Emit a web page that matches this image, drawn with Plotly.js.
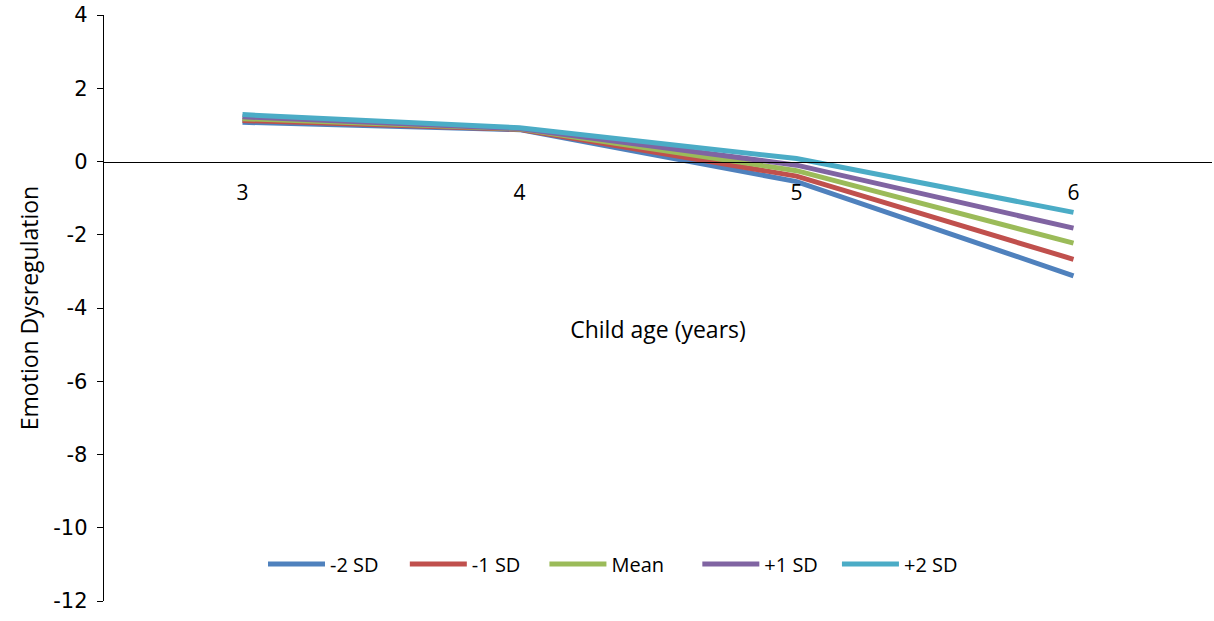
<!DOCTYPE html>
<html>
<head>
<meta charset="utf-8">
<script src="https://cdn.plot.ly/plotly-3.0.1.min.js"></script>
<style>html,body{margin:0;padding:0;background:#fff;}#chart{width:1214px;height:621px;}</style>
</head>
<body>
<div id="chart"></div>
<script>
const ages = [3, 4, 5, 6];
const ageLabels = ["3", "4", "5", "6"];
const yTickVals = [-12, -10, -8, -6, -4, -2, 0, 2, 4];
const yTickLabels = ["-12", "-10", "-8", "-6", "-4", "-2", "0", "2", "4"];
const seriesNames = ["-2 SD", "-1 SD", "Mean", "+1 SD", "+2 SD"];
const minus2SD = [1.07, 0.87, -0.55, -3.12];
const minus1SD = [1.12, 0.88, -0.40, -2.67];
const meanSD   = [1.17, 0.89, -0.25, -2.23];
const plus1SD  = [1.22, 0.90, -0.10, -1.82];
const plus2SD  = [1.28, 0.92, 0.08, -1.39];
const colors = ["#4F81BD", "#C0504D", "#9BBB59", "#8064A2", "#4BACC6"];
const allSeries = [minus2SD, minus1SD, meanSD, plus1SD, plus2SD];
const legendIds = ["legend", "legend2", "legend3", "legend4", "legend5"];
const legendX = [0.1435, 0.2715, 0.3975, 0.5355, 0.6615];

const traces = allSeries.map((vals, i) => ({
  x: ages, y: vals, type: "scatter", mode: "lines", name: seriesNames[i],
  legend: legendIds[i],
  line: {color: colors[i], width: 5}
}));

const legFont = {family: "Open Sans, sans-serif", size: 20, color: "#000"};
const layout = {
  width: 1214, height: 621,
  margin: {l: 104, r: 2, t: 15, b: 20},
  paper_bgcolor: "#fff", plot_bgcolor: "#fff",
  font: {family: "Liberation Sans, Arial, sans-serif", size: 21, color: "#000"},
  xaxis: {
    range: [2.5, 6.5], tickvals: ages, ticktext: ageLabels,
    anchor: "free", position: 0.75,
    showline: true, linecolor: "#000", linewidth: 1.3,
    showgrid: false, zeroline: false, ticks: "",
    ticklabelstandoff: 12,
    tickfont: {family: "Open Sans, sans-serif", size: 21},
    title: {text: "Child age (years)", standoff: 117, font: {family: "Open Sans, sans-serif", size: 23}},
    automargin: false
  },
  yaxis: {
    range: [-12, 4], tickvals: yTickVals, ticktext: yTickLabels,
    showline: true, linecolor: "#000", linewidth: 1.3,
    ticks: "outside", ticklen: 6, tickcolor: "#000",
    ticklabelstandoff: 5,
    showgrid: false, zeroline: false,
    tickfont: {family: "DejaVu Sans, sans-serif", size: 21},
    title: {text: "Emotion Dysregulation", standoff: 8, font: {family: "Open Sans, sans-serif", size: 23}},
    automargin: false
  },
  showlegend: true
};
legendIds.forEach((id, i) => {
  layout[id] = {
    orientation: "h", x: legendX[i], xanchor: "left", y: 0.063, yanchor: "middle",
    itemwidth: 57, font: legFont, bgcolor: "rgba(0,0,0,0)", borderwidth: 0
  };
});

Plotly.newPlot("chart", traces, layout, {displayModeBar: false, staticPlot: true});
</script>
</body>
</html>
